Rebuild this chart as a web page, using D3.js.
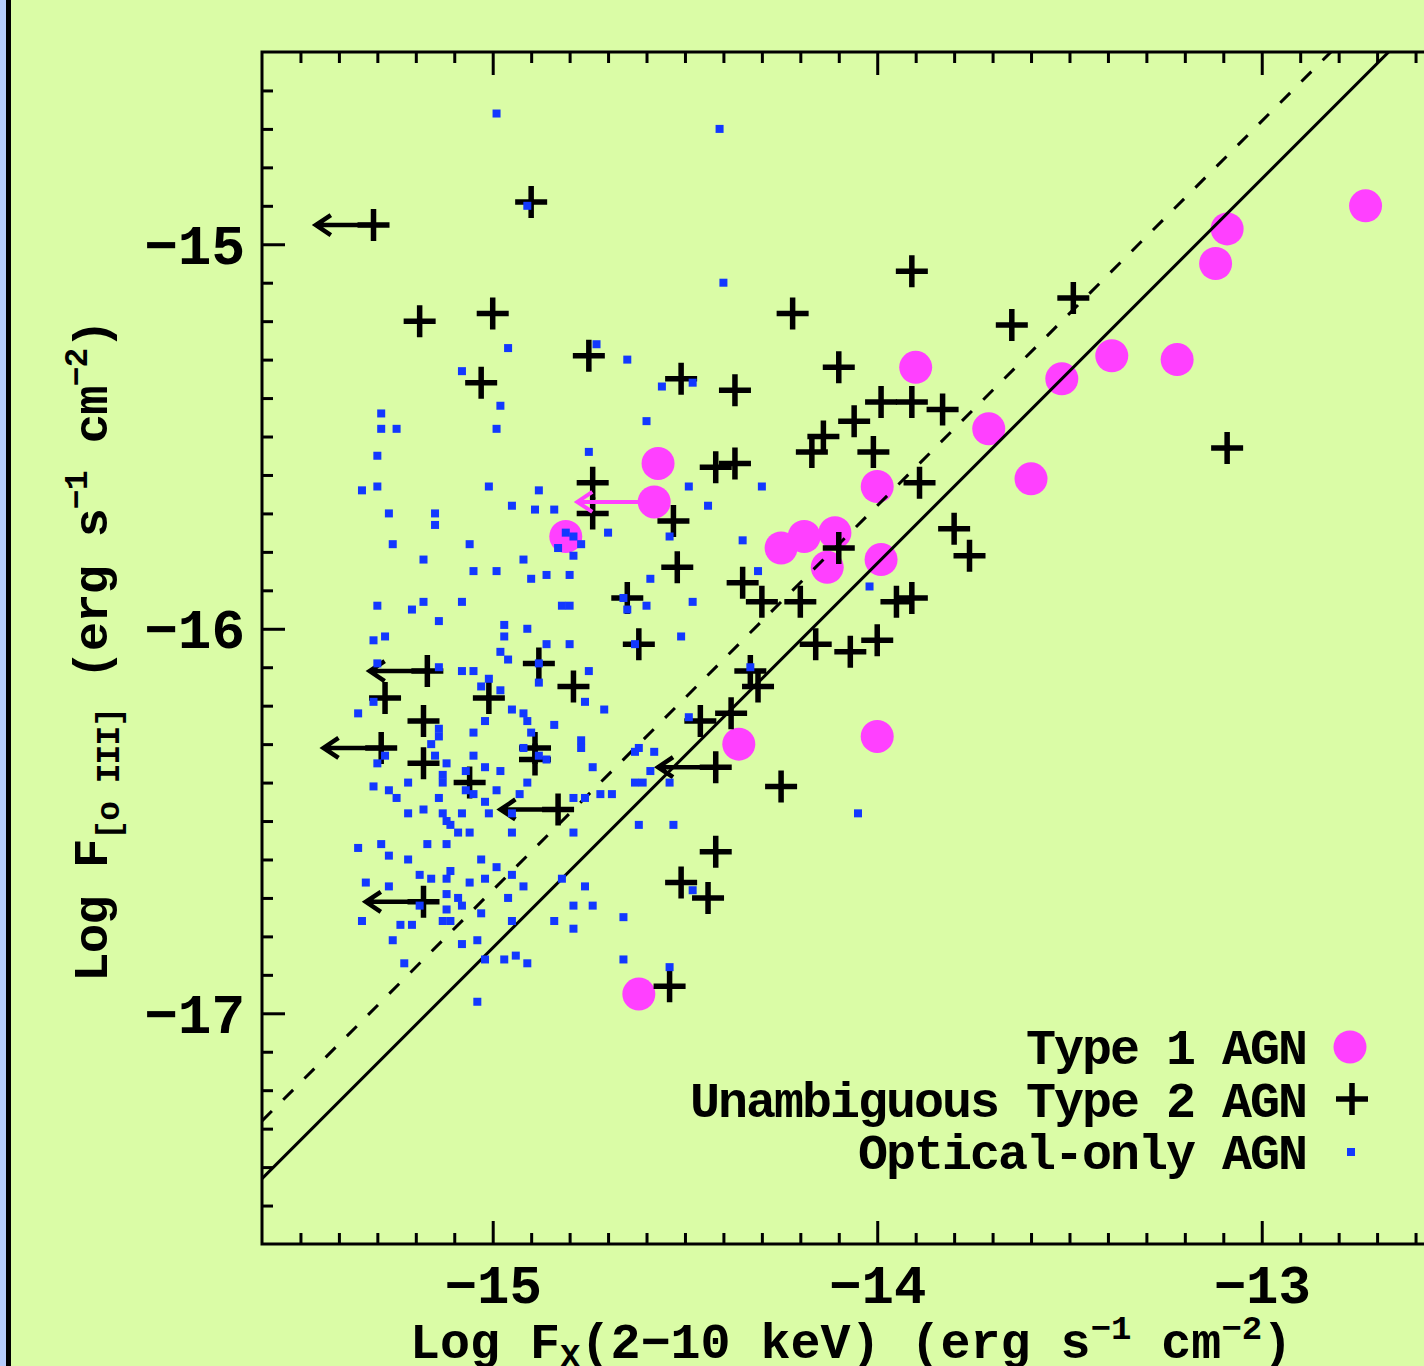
<!DOCTYPE html>
<html>
<head>
<meta charset="utf-8">
<script src="https://cdn.jsdelivr.net/npm/d3@7"></script>
<style>
  html, body { margin: 0; padding: 0; overflow: hidden; background: #dafca6; }
  svg { display: block; }
  text { font-family: "Liberation Mono", "DejaVu Sans Mono", monospace; font-weight: bold; fill: #000; }
</style>
</head>
<body>
<script>
'use strict';

// [log Fx(2-10 keV), log F[OIII]]
const type1Agn = [
  [-12.73, -14.90], [-13.09, -14.96], [-13.12, -15.05], [-13.39, -15.29], [-13.22, -15.30],
  [-13.52, -15.35], [-13.90, -15.32], [-13.71, -15.48], [-13.60, -15.61], [-14.00, -15.63],
  [-14.57, -15.57], [-14.81, -15.76], [-14.25, -15.79], [-14.19, -15.76], [-14.11, -15.75],
  [-14.13, -15.84], [-13.99, -15.82], [-14.36, -16.30], [-14.00, -16.28], [-14.62, -16.95]
];
// x upper limits
const type1Limits = [[-14.58, -15.67]];

const type2Agn = [
  [-14.90, -14.89], [-15.19, -15.20], [-15.00, -15.18], [-15.03, -15.36], [-14.75, -15.29],
  [-14.51, -15.35], [-14.37, -15.38], [-14.22, -15.18], [-13.91, -15.07], [-13.65, -15.21],
  [-13.49, -15.14], [-14.10, -15.32], [-13.09, -15.53], [-13.99, -15.41], [-13.91, -15.41],
  [-13.83, -15.43], [-14.06, -15.46], [-14.14, -15.50], [-14.17, -15.54], [-14.01, -15.54],
  [-13.89, -15.62], [-13.80, -15.74], [-13.76, -15.81], [-14.10, -15.79], [-14.20, -15.93],
  [-13.95, -15.93], [-13.91, -15.92], [-14.30, -15.93], [-14.42, -15.58], [-14.37, -15.57],
  [-14.35, -15.88], [-14.16, -16.04], [-14.07, -16.06], [-14.00, -16.03], [-14.33, -16.11],
  [-14.31, -16.15], [-14.38, -16.22], [-14.46, -16.24], [-14.25, -16.41], [-14.42, -16.58],
  [-14.51, -16.66], [-14.44, -16.70], [-14.54, -16.93], [-15.28, -16.18], [-15.18, -16.24],
  [-15.18, -16.35], [-15.01, -16.18], [-14.88, -16.09], [-14.79, -16.15], [-14.89, -16.31],
  [-14.89, -16.34], [-15.06, -16.40], [-14.74, -15.62], [-14.74, -15.70], [-14.53, -15.72],
  [-14.52, -15.84], [-14.65, -15.92], [-14.62, -16.04]
];
const type2Limits = [
  [-15.31, -14.95], [-14.42, -16.36], [-15.17, -16.11], [-15.29, -16.31], [-14.83, -16.47],
  [-15.18, -16.71]
];

const opticalAgn = [
  [-14.99, -14.66], [-14.41, -14.70], [-14.91, -14.90], [-14.40, -15.10], [-14.96, -15.27],
  [-14.73, -15.26], [-14.65, -15.30], [-15.08, -15.33], [-14.56, -15.37], [-14.48, -15.36],
  [-14.98, -15.42], [-15.29, -15.44], [-15.29, -15.48], [-15.25, -15.48], [-14.99, -15.48],
  [-14.60, -15.46], [-15.30, -15.55], [-14.75, -15.54], [-15.34, -15.64], [-15.30, -15.63],
  [-15.01, -15.63], [-14.88, -15.64], [-14.95, -15.68], [-14.89, -15.69], [-14.84, -15.69],
  [-14.49, -15.63], [-15.27, -15.70], [-15.15, -15.70], [-15.15, -15.73], [-14.70, -15.75],
  [-14.81, -15.75], [-14.79, -15.76], [-14.83, -15.79], [-14.79, -15.81], [-14.77, -15.78],
  [-14.54, -15.76], [-15.26, -15.78], [-15.06, -15.78], [-15.18, -15.82], [-15.05, -15.85],
  [-14.99, -15.85], [-14.92, -15.82], [-14.90, -15.87], [-14.86, -15.86], [-14.80, -15.86],
  [-14.59, -15.87], [-15.30, -15.94], [-15.21, -15.95], [-15.18, -15.93], [-15.14, -15.98],
  [-15.08, -15.93], [-14.97, -15.99], [-14.97, -16.02], [-14.91, -16.00], [-14.86, -16.04],
  [-14.80, -16.04], [-14.82, -15.94], [-14.80, -15.94], [-14.66, -15.92], [-14.65, -15.95],
  [-14.60, -15.94], [-14.48, -15.93], [-14.51, -16.02], [-14.63, -16.04], [-14.75, -16.11],
  [-15.31, -16.03], [-15.28, -16.02], [-14.98, -16.06], [-14.96, -16.08], [-14.88, -16.09],
  [-15.08, -16.11], [-15.05, -16.11], [-15.01, -16.13], [-15.30, -16.09], [-15.14, -16.10],
  [-14.30, -15.63], [-14.44, -15.68], [-14.35, -15.77], [-14.31, -15.85], [-14.02, -15.89],
  [-14.33, -16.10], [-15.03, -16.15], [-14.98, -16.16], [-14.88, -16.14], [-15.31, -16.19],
  [-14.76, -16.19], [-15.35, -16.22], [-14.95, -16.21], [-14.92, -16.22], [-14.91, -16.24],
  [-14.71, -16.21], [-15.02, -16.24], [-14.84, -16.25], [-15.14, -16.26], [-15.05, -16.27],
  [-14.90, -16.27], [-15.14, -16.28], [-15.16, -16.30], [-14.77, -16.29], [-14.77, -16.31],
  [-15.28, -16.33], [-15.30, -16.35], [-15.15, -16.33], [-15.12, -16.35], [-15.05, -16.33],
  [-14.92, -16.31], [-14.88, -16.33], [-14.86, -16.34], [-14.63, -16.32], [-14.62, -16.31],
  [-14.58, -16.32], [-14.49, -16.23], [-14.74, -16.36], [-14.59, -16.37], [-15.13, -16.38],
  [-15.07, -16.37], [-15.02, -16.36], [-14.98, -16.37], [-15.31, -16.41], [-15.27, -16.42],
  [-15.25, -16.44], [-15.22, -16.40], [-15.13, -16.40], [-15.14, -16.44], [-15.07, -16.42],
  [-15.05, -16.43], [-14.99, -16.42], [-14.91, -16.40], [-14.93, -16.43], [-15.02, -16.45],
  [-15.01, -16.48], [-14.95, -16.48], [-14.79, -16.44], [-14.76, -16.44], [-14.72, -16.43],
  [-14.69, -16.43], [-14.63, -16.40], [-14.61, -16.40], [-14.54, -16.40], [-15.22, -16.48],
  [-15.18, -16.47], [-15.13, -16.48], [-15.12, -16.50], [-15.11, -16.51], [-15.08, -16.48],
  [-15.09, -16.53], [-15.06, -16.53], [-15.12, -16.56], [-14.95, -16.53], [-14.79, -16.53],
  [-14.62, -16.51], [-14.53, -16.51], [-15.35, -16.57], [-15.29, -16.56], [-15.27, -16.59],
  [-15.17, -16.56], [-15.22, -16.60], [-15.19, -16.64], [-15.16, -16.65], [-15.33, -16.66],
  [-15.27, -16.67], [-15.12, -16.65], [-15.12, -16.69], [-15.11, -16.63], [-15.03, -16.60],
  [-14.99, -16.62], [-15.06, -16.66], [-15.02, -16.65], [-14.95, -16.64], [-14.92, -16.67],
  [-14.96, -16.70], [-15.03, -16.74], [-15.09, -16.70], [-15.08, -16.72], [-15.12, -16.73],
  [-14.82, -16.65], [-14.76, -16.67], [-14.74, -16.72], [-14.79, -16.72], [-14.66, -16.75],
  [-14.84, -16.76], [-14.95, -16.76], [-14.79, -16.78], [-15.34, -16.76], [-15.24, -16.77],
  [-15.21, -16.77], [-15.13, -16.76], [-15.11, -16.76], [-15.19, -16.72], [-15.26, -16.81],
  [-15.08, -16.82], [-15.04, -16.81], [-15.02, -16.86], [-14.97, -16.86], [-14.94, -16.85],
  [-14.91, -16.87], [-15.23, -16.87], [-14.66, -16.86], [-14.54, -16.88], [-14.48, -16.68],
  [-14.05, -16.48], [-15.04, -16.97]
];

const solidLine = [[-15.6, -17.43], [-12.5, -14.33]];
const dashedLine = [[-15.6, -17.28], [-12.5, -14.18]];

const xMajorTicks = [-15, -14, -13];
const yMajorTicks = [-17, -16, -15];
const legendLabels = ['Type 1 AGN', 'Unambiguous Type 2 AGN', 'Optical-only AGN'];

const W = 1424, H = 1366;
const margin = {top: 52, left: 262};
const size = 1192;
const arrowDex = 0.15;

const x = d3.scaleLinear().domain([-15.6, -12.5]).range([0, size]);
const y = d3.scaleLinear().domain([-17.6, -14.5]).range([size, 0]);

const svg = d3.select('body').append('svg')
    .attr('width', W)
    .attr('height', H);

svg.append('rect').attr('width', W).attr('height', H).attr('fill', '#dafca6');
// left page edge
svg.append('rect').attr('x', 0).attr('y', 0).attr('width', 6).attr('height', H).attr('fill', '#b7cdfd');
svg.append('rect').attr('x', 6).attr('y', 0).attr('width', 5).attr('height', H).attr('fill', '#000');

const g = svg.append('g')
    .attr('transform', 'translate(' + margin.left + ',' + margin.top + ')');

g.append('clipPath').attr('id', 'plotclip')
  .append('rect').attr('width', size).attr('height', size);

// ticks
const minorX = x.ticks(31).filter(d => Math.abs(d - Math.round(d)) > 1e-6 && d > -15.59 && d < -12.51);
const minorY = y.ticks(31).filter(d => Math.abs(d - Math.round(d)) > 1e-6 && d > -17.59 && d < -14.51);

function styleAxis(sel) {
  sel.select('.domain').remove();
  sel.selectAll('line').attr('stroke', '#000').attr('stroke-width', 3);
}

g.append('g').attr('transform', 'translate(0,' + size + ')')
  .call(d3.axisBottom(x).tickValues(minorX).tickSize(-11).tickFormat(''))
  .call(styleAxis);
g.append('g')
  .call(d3.axisTop(x).tickValues(minorX).tickSize(-11).tickFormat(''))
  .call(styleAxis);
g.append('g')
  .call(d3.axisLeft(y).tickValues(minorY).tickSize(-11).tickFormat(''))
  .call(styleAxis);
g.append('g')
  .call(d3.axisTop(x).tickValues(xMajorTicks).tickSize(-23).tickFormat(''))
  .call(styleAxis);

const xAxis = g.append('g').attr('transform', 'translate(0,' + size + ')')
  .call(d3.axisBottom(x).tickValues(xMajorTicks).tickSize(-23).tickFormat(d3.format('d')))
  .call(styleAxis);
xAxis.selectAll('text')
    .attr('y', 59).attr('dy', 0)
    .attr('font-size', 54)
    .attr('font-family', null);

const yAxis = g.append('g')
  .call(d3.axisLeft(y).tickValues(yMajorTicks).tickSize(-23).tickFormat(d3.format('d')))
  .call(styleAxis);
yAxis.selectAll('text')
    .attr('x', -17).attr('dy', 19)
    .attr('font-size', 56)
    .attr('font-family', null);

// frame
g.append('rect')
    .attr('width', size).attr('height', size)
    .attr('fill', 'none').attr('stroke', '#000').attr('stroke-width', 3);

const plot = g.append('g').attr('clip-path', 'url(#plotclip)');

// type 1 circles
plot.selectAll('circle.t1')
  .data(type1Agn.concat(type1Limits)).enter()
  .append('circle').attr('class', 't1')
    .attr('cx', d => x(d[0])).attr('cy', d => y(d[1]))
    .attr('r', 16.5).attr('fill', '#ff40ff');

// relations
const line = d3.line().x(d => x(d[0])).y(d => y(d[1]));
plot.append('path').attr('d', line(solidLine))
    .attr('fill', 'none').attr('stroke', '#000').attr('stroke-width', 3);
plot.append('path').attr('d', line(dashedLine))
    .attr('fill', 'none').attr('stroke', '#000').attr('stroke-width', 3)
    .attr('stroke-dasharray', '14,16');

// type 2 crosses
const crossPath = 'M-16,0H16M0,-16V16';
plot.selectAll('path.t2')
  .data(type2Agn.concat(type2Limits)).enter()
  .append('path').attr('class', 't2')
    .attr('transform', d => 'translate(' + x(d[0]) + ',' + y(d[1]) + ')')
    .attr('d', crossPath)
    .attr('stroke', '#000').attr('stroke-width', 5.5);

function arrow(sel, color, dex, width) {
  sel.append('path')
      .attr('d', d => {
        const x0 = x(d[0]), y0 = y(d[1]), x1 = x(d[0] - dex);
        return 'M' + x0 + ',' + y0 + 'H' + x1 +
               'M' + (x1 + 15) + ',' + (y0 - 10) + 'L' + x1 + ',' + y0 + 'L' + (x1 + 15) + ',' + (y0 + 10);
      })
      .attr('fill', 'none').attr('stroke', color).attr('stroke-width', width)
      .attr('stroke-linejoin', 'miter');
}

plot.selectAll('g.lim2').data(type2Limits).enter()
  .append('g').attr('class', 'lim2')
  .call(arrow, '#000', arrowDex, 4.5);
plot.selectAll('g.lim1').data(type1Limits).enter()
  .append('g').attr('class', 'lim1')
  .call(arrow, '#ff40ff', 0.2, 4);

// optical-only points
plot.selectAll('rect.opt')
  .data(opticalAgn).enter()
  .append('rect').attr('class', 'opt')
    .attr('x', d => x(d[0]) - 4).attr('y', d => y(d[1]) - 4)
    .attr('width', 8).attr('height', 8)
    .attr('fill', '#1238ff');

// legend
const legend = svg.append('g').attr('font-size', 50).attr('letter-spacing', -2);
legend.selectAll('text').data(legendLabels).enter()
  .append('text')
    .attr('x', 1306).attr('y', (d, i) => 1064 + i * 52.5)
    .attr('text-anchor', 'end')
    .text(d => d);
legend.append('circle').attr('cx', 1350).attr('cy', 1047).attr('r', 16.5).attr('fill', '#ff40ff');
legend.append('path').attr('transform', 'translate(1352,1099)').attr('d', crossPath)
    .attr('stroke', '#000').attr('stroke-width', 5.5);
legend.append('rect').attr('x', 1347).attr('y', 1148).attr('width', 8).attr('height', 8).attr('fill', '#1238ff');

// axis titles
const xt = svg.append('text').attr('x', 410).attr('y', 1358).attr('font-size', 50);
xt.append('tspan').text('Log F');
xt.append('tspan').attr('font-size', 34).attr('dy', 9).text('X');
xt.append('tspan').attr('dy', -9).text('(2\u221210 keV) (erg s');
xt.append('tspan').attr('font-size', 34).attr('dy', -19).text('\u22121');
xt.append('tspan').attr('dy', 19).text(' cm');
xt.append('tspan').attr('font-size', 34).attr('dy', -19).text('\u22122');
xt.append('tspan').attr('dy', 19).text(')');

const yt = svg.append('text')
    .attr('transform', 'translate(107,651) rotate(-90)')
    .attr('text-anchor', 'middle').attr('font-size', 49).attr('letter-spacing', -1);
yt.append('tspan').text('Log F');
yt.append('tspan').attr('font-size', 33).attr('dy', 12).text('[o III]');
yt.append('tspan').attr('dy', -12).text(' (erg s');
yt.append('tspan').attr('font-size', 33).attr('dy', -20).text('\u22121');
yt.append('tspan').attr('dy', 20).text(' cm');
yt.append('tspan').attr('font-size', 33).attr('dy', -20).text('\u22122');
yt.append('tspan').attr('dy', 20).text(')');
</script>
</body>
</html>
